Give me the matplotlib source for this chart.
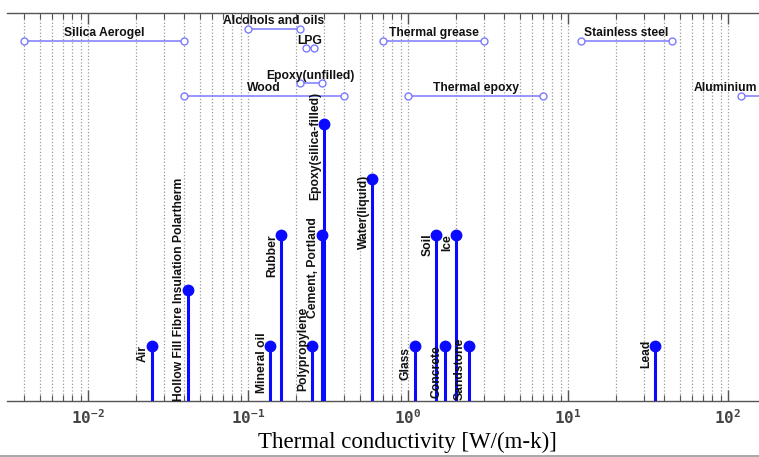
import matplotlib
matplotlib.use('Agg')
import matplotlib.pyplot as plt
import numpy as np
from matplotlib.lines import Line2D
from matplotlib.ticker import LogLocator, FuncFormatter, NullFormatter

plt.rcParams['mathtext.fontset'] = 'custom'
plt.rcParams['mathtext.rm'] = 'DejaVu Sans Mono:bold'
plt.rcParams['mathtext.default'] = 'rm'

# single materials (stems)
materials = ['Air', 'Hollow Fill Fibre Insulation Polartherm', 'Mineral oil', 'Rubber',
             'Polypropylene', 'Cement, Portland', 'Epoxy(silica-filled)', 'Water(liquid)',
             'Glass', 'Soil', 'Concrete', 'Ice', 'Sandstone', 'Lead']
conductivity = [0.025, 0.042, 0.138, 0.16, 0.25, 0.29, 0.30, 0.6,
                1.1, 1.5, 1.7, 2.0, 2.4, 35]
stem_level = [1, 2, 1, 3, 1, 3, 5, 4, 1, 3, 1, 3, 1, 1]

# materials given as a range
range_names = ['Silica Aerogel', 'Alcohols and oils', 'LPG', 'Epoxy(unfilled)', 'Wood',
               'Thermal grease', 'Thermal epoxy', 'Stainless steel', 'Aluminium']
range_low = [0.004, 0.1, 0.23, 0.21, 0.04, 0.7, 1.0, 12, 120]
range_high = [0.04, 0.21, 0.26, 0.29, 0.4, 3.0, 7.0, 45, 240]
range_level = [6.5, 6.72, 6.36, 5.73, 5.5, 6.5, 5.5, 6.5, 5.5]

# layout: where the top of each rotated label sits
label_top = [1.01, 4.02, 1.23, 3.0, 1.70, 3.32, 5.57, 4.08, 0.97, 3.03, 1.01, 3.0, 1.14, 1.10]
range_label_x = {'Aluminium': 97}

STEM = '#0a0aff'
RANGE = '#7b7bff'
TXT = dict(fontsize=8.7, fontweight='bold', family='Liberation Sans', color='#111111')

fig = plt.figure(figsize=(7.59, 4.57), dpi=100)
ax = fig.add_axes([7 / 759, 56 / 457, 1 - 7 / 759, 388 / 457])

ax.set_xscale('log')
ax.set_xlim(10 ** -2.506, 10 ** 2.194)
ax.set_ylim(0, 7)

# grid
ax.xaxis.set_major_locator(LogLocator(base=10))
ax.xaxis.set_minor_locator(LogLocator(base=10, subs=np.arange(2, 10)))
ax.xaxis.set_minor_formatter(NullFormatter())
ax.xaxis.set_major_formatter(FuncFormatter(
    lambda v, pos: r'$\mathrm{10^{%d}}$' % int(round(np.log10(v)))))
ax.grid(True, which='both', axis='x', color='#9a9a9a', ls=':', lw=0.9)
ax.set_axisbelow(True)

# stems
ax.vlines(conductivity, 0, stem_level, color=STEM, lw=2.2, zorder=3)
ax.plot(conductivity, stem_level, 'o', color=STEM, ms=7.5, zorder=4)
for name, x, top in zip(materials, conductivity, label_top):
    ax.annotate(name, xy=(x, top), xytext=(-2, 0), textcoords='offset points',
                rotation=90, ha='right', va='top', zorder=5, **TXT)

# ranges
for name, lo, hi, y in zip(range_names, range_low, range_high, range_level):
    ax.plot([lo, hi], [y, y], '-o', color=RANGE, lw=1.1, ms=5,
            mfc='white', mec=RANGE, mew=1.0, zorder=3)
    xl = range_label_x.get(name, np.sqrt(lo * hi))
    ax.annotate(name, xy=(xl, y), xytext=(0, 1.2), textcoords='offset points',
                ha='center', va='bottom', zorder=5, annotation_clip=False, **TXT)

# axes look
for s in ['left', 'right']:
    ax.spines[s].set_visible(False)
for s in ['top', 'bottom']:
    ax.spines[s].set_color('#555555')
    ax.spines[s].set_linewidth(1.0)
ax.set_yticks([])
ax.tick_params(axis='x', which='both', direction='in', top=True, bottom=True,
               colors='#555555', labelcolor='#444444')
ax.tick_params(axis='x', which='major', length=8, width=1.0, labelsize=11.5, pad=5)
ax.tick_params(axis='x', which='minor', length=4.5, width=0.8)

fig.text(407 / 759, 9 / 457, 'Thermal conductivity [W/(m-k)]', ha='center', va='baseline',
         fontsize=16.5, family='Liberation Serif', color='black')

# thin border line at the very bottom
fig.add_artist(Line2D([0, 1], [0.6 / 457, 0.6 / 457], transform=fig.transFigure,
                      color='#999999', lw=1.2))

fig.savefig('out.png', dpi=100)
plt.close(fig)
